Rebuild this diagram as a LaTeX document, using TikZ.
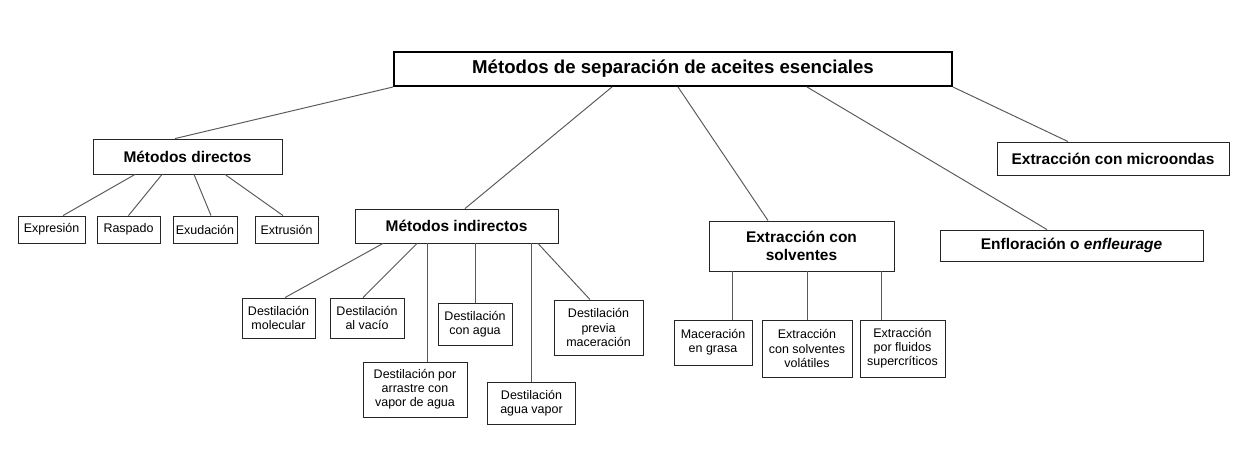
\documentclass[tikz,border=0pt]{standalone}
\usepackage{fontspec}
\setmainfont{Liberation Sans}
\usetikzlibrary{positioning, calc}

\begin{document}
\begin{tikzpicture}[
    x=0.02cm, y=-0.02cm,
    rootbox/.style={rectangle, draw=black, line width=1.1pt, inner sep=0pt, align=center, font=\fontsize{10.6}{12.5}\selectfont\bfseries},
    midbox/.style={rectangle, draw=black!85, line width=0.5pt, inner sep=0pt, align=center, font=\fontsize{8.8}{10.4}\selectfont\bfseries},
    leaf/.style={rectangle, draw=black!85, line width=0.5pt, inner sep=0pt, align=center, font=\fontsize{7.1}{8}\selectfont},
    link/.style={draw=black!65, line width=0.55pt},
]

\useasboundingbox (0, 0) rectangle (1258, 453);

\node[rootbox, minimum width=11.16cm, minimum height=0.68cm] (root) at (673, 69)
    {Métodos de separación de aceites esenciales};

% second level
\node[midbox, minimum width=3.78cm, minimum height=0.70cm] (directos) at (187.5, 156.5) {Métodos directos};
\node[midbox, minimum width=4.06cm, minimum height=0.68cm] (indirectos) at (456.5, 226) {Métodos indirectos};
\node[midbox, minimum width=3.70cm, minimum height=1.00cm] (solventes) at (801.5, 246) {Extracción con\\solventes};
\node[midbox, minimum width=5.26cm, minimum height=0.62cm] (enfloracion) at (1071.5, 245.5) {Enfloración o \textit{enfleurage}};
\node[midbox, minimum width=4.64cm, minimum height=0.66cm] (microondas) at (1113, 158.5) {Extracción con microondas};

% metodos directos
\node[leaf, minimum width=1.34cm, minimum height=0.54cm] (expresion) at (51.5, 229.5) {Expresión};
\node[leaf, minimum width=1.26cm, minimum height=0.54cm] (raspado) at (128.5, 229.5) {Raspado};
\node[leaf, minimum width=1.28cm, minimum height=0.54cm] (exudacion) at (205, 229.5) {Exudación};
\node[leaf, minimum width=1.26cm, minimum height=0.54cm] (extrusion) at (286.5, 229.5) {Extrusión};

% metodos indirectos
\node[leaf, minimum width=1.46cm, minimum height=0.80cm] (molecular) at (278.5, 318) {Destilación\\molecular};
\node[leaf, minimum width=1.48cm, minimum height=0.80cm] (vacio) at (367, 318) {Destilación\\al vacío};
\node[leaf, minimum width=2.08cm, minimum height=1.10cm] (arrastre) at (415, 389.5) {Destilación por\\arrastre con\\vapor de agua};
\node[leaf, minimum width=1.48cm, minimum height=0.84cm] (conagua) at (475, 324) {Destilación\\con agua};
\node[leaf, minimum width=1.76cm, minimum height=0.84cm] (aguavapor) at (531.5, 403) {Destilación\\agua vapor};
\node[leaf, minimum width=1.78cm, minimum height=1.10cm] (previa) at (598.5, 327.5) {Destilación\\previa\\maceración};

% extraccion con solventes
\node[leaf, minimum width=1.56cm, minimum height=0.90cm] (grasa) at (713, 342.5) {Maceración\\en grasa};
\node[leaf, minimum width=1.80cm, minimum height=1.14cm] (volatiles) at (807, 348.5) {Extracción\\con solventes\\volátiles};
\node[leaf, minimum width=1.70cm, minimum height=1.14cm] (fluidos) at (902.5, 348.5) {Extracción\\por fluidos\\supercríticos};

\draw[link] (root.south west) -- ([xshift=-0.25cm]directos.north);
\draw[link] ([xshift=-1.22cm]root.south) -- ([xshift=0.17cm]indirectos.north);
\draw[link] ([xshift=0.10cm]root.south) -- ([xshift=-0.67cm]solventes.north);
\draw[link] ([xshift=2.68cm]root.south) -- ([xshift=-0.49cm]enfloracion.north);
\draw[link] (root.south east) -- ([xshift=-0.90cm]microondas.north);

\draw[link] ([xshift=-1.05cm]directos.south) -- ([xshift=0.23cm]expresion.north);
\draw[link] ([xshift=-0.51cm]directos.south) -- (raspado.north);
\draw[link] ([xshift=0.13cm]directos.south) -- ([xshift=0.12cm]exudacion.north);
\draw[link] ([xshift=0.75cm]directos.south) -- ([xshift=-0.07cm]extrusion.north);

\draw[link] ([xshift=-1.47cm]indirectos.south) -- ([xshift=0.13cm]molecular.north);
\draw[link] ([xshift=-0.79cm]indirectos.south) -- ([xshift=-0.08cm]vacio.north);
\draw[link] ([xshift=0.24cm]arrastre.north |- indirectos.south) -- ([xshift=0.24cm]arrastre.north);
\draw[link] (conagua.north |- indirectos.south) -- (conagua.north);
\draw[link] (aguavapor.north |- indirectos.south) -- (aguavapor.north);
\draw[link] ([xshift=1.63cm]indirectos.south) -- ([xshift=-0.17cm]previa.north);

\draw[link] ([xshift=0.38cm]grasa.north |- solventes.south) -- ([xshift=0.38cm]grasa.north);
\draw[link] (volatiles.north |- solventes.south) -- (volatiles.north);
\draw[link] ([xshift=-0.43cm]fluidos.north |- solventes.south) -- ([xshift=-0.43cm]fluidos.north);

\end{tikzpicture}
\end{document}
